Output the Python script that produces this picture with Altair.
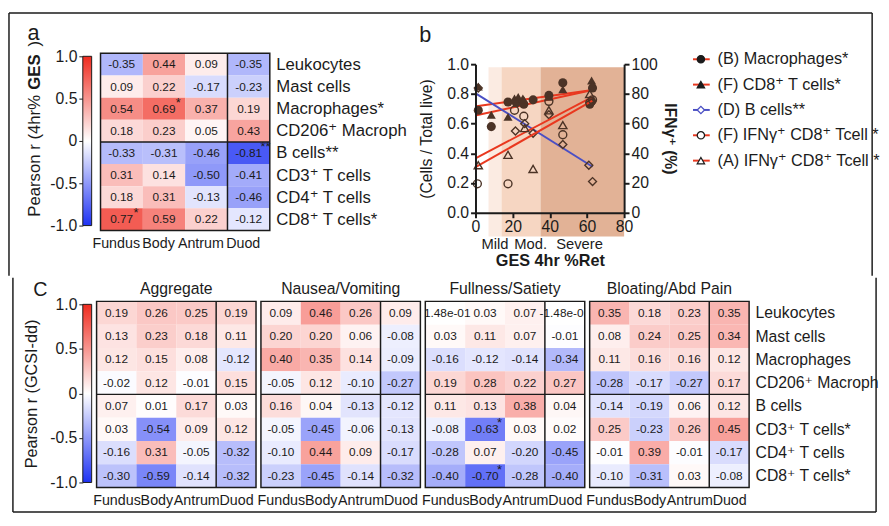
import altair as alt
import pandas as pd

FONT = "Liberation Sans, Arial, DejaVu Sans, sans-serif"
INK = "#1b1b1b"
RED = "#ef2b1f"
BLUE = "#1e32f3"
LINE_RED = "#e9381f"
LINE_BLUE = "#4a4fc4"
BROWN = "#4b3326"

# ---------------- data ----------------
COLS = ["Fundus", "Body", "Antrum", "Duod"]
ROWS_A = ["Leukocytes", "Mast cells", "Macrophages*", "CD206⁺ Macroph", "B cells**",
          "CD3⁺ T cells", "CD4⁺ T cells", "CD8⁺ T cells*"]
ROWS_C = ["Leukocytes", "Mast cells", "Macrophages", "CD206⁺ Macroph", "B cells",
          "CD3⁺ T cells*", "CD4⁺ T cells", "CD8⁺ T cells*"]

GES_R = [
    [-0.35, 0.44, 0.09, -0.35],
    [0.09, 0.22, -0.17, -0.23],
    [0.54, 0.69, 0.37, 0.19],
    [0.18, 0.23, 0.05, 0.43],
    [-0.33, -0.31, -0.46, -0.81],
    [0.31, 0.14, -0.50, -0.41],
    [0.18, 0.31, -0.13, -0.46],
    [0.77, 0.59, 0.22, -0.12],
]
STARS_A = [(1, 2, "*"), (3, 4, "**"), (0, 7, "*")]  # (col, row, mark)

AGGREGATE = [
    [0.19, 0.26, 0.25, 0.19],
    [0.13, 0.23, 0.18, 0.11],
    [0.12, 0.15, 0.08, -0.12],
    [-0.02, 0.12, -0.01, 0.15],
    [0.07, 0.01, 0.17, 0.03],
    [0.03, -0.54, 0.09, 0.12],
    [-0.16, 0.31, -0.05, -0.32],
    [-0.30, -0.59, -0.14, -0.32],
]
NAUSEA = [
    [0.09, 0.46, 0.26, 0.09],
    [0.20, 0.20, 0.06, -0.08],
    [0.40, 0.35, 0.14, -0.09],
    [-0.05, 0.12, -0.10, -0.27],
    [0.16, 0.04, -0.13, -0.12],
    [-0.05, -0.45, -0.06, -0.13],
    [-0.10, 0.44, 0.09, -0.17],
    [-0.23, -0.45, -0.14, -0.32],
]
FULLNESS = [
    [-1.48e-17, 0.03, 0.07, -1.48e-17],
    [0.03, 0.11, 0.07, -0.01],
    [-0.16, -0.12, -0.14, -0.34],
    [0.19, 0.28, 0.22, 0.27],
    [0.11, 0.13, 0.38, 0.04],
    [-0.08, -0.63, 0.03, 0.02],
    [-0.28, 0.07, -0.20, -0.45],
    [-0.40, -0.70, -0.28, -0.40],
]
FULLNESS_TEXT = {(0, 0): "-1.48e-01", (0, 3): "-1.48e-01"}
STARS_FULL = [(1, 5, "*"), (1, 7, "*")]
BLOATING = [
    [0.35, 0.18, 0.23, 0.35],
    [0.08, 0.24, 0.25, 0.34],
    [0.11, 0.16, 0.16, 0.12],
    [-0.28, -0.17, -0.27, 0.17],
    [-0.14, -0.19, 0.06, 0.12],
    [0.25, -0.23, 0.26, 0.45],
    [-0.01, 0.39, -0.01, -0.17],
    [-0.10, -0.31, 0.03, -0.08],
]
PANEL_TITLES = ["Aggregate", "Nausea/Vomiting", "Fullness/Satiety", "Bloating/Abd Pain"]

# scatter (GES 4hr %retention vs cell fractions / IFNg+ %)
MAC_X = [1.5, 8.5, 17.5, 22, 26, 31, 39.5, 47, 61.5, 62.5, 63]
MAC_Y = [0.69, 0.58, 0.745, 0.74, 0.73, 0.76, 0.79, 0.875, 0.73, 0.75, 0.84]
CD8_X = [1.5, 8.5, 17.5, 21, 23, 25.5, 26, 39.5, 47, 62.5, 63]
CD8_Y = [0.85, 0.66, 0.645, 0.77, 0.78, 0.77, 0.76, 0.78, 0.83, 0.89, 0.86]
BC_X = [1.5, 21.5, 26.5, 31, 39.5, 47, 61, 63]
BC_Y = [0.84, 0.55, 0.60, 0.535, 0.66, 0.46, 0.32, 0.21]
IFNF_X = [1, 17.5, 21, 26, 39.5, 47, 61.5, 63]
IFNF_Y = [19.5, 19.5, 69, 65, 75, 52.5, 74, 76]
IFNA_X = [1.5, 17.5, 26.5, 31, 39.5, 47, 61.5]
IFNA_Y = [32, 39, 57, 29.5, 69, 59, 80]
FIT_X = [0.5, 63]
MAC_FIT = [0.717, 0.826]
CD8_FIT = [0.656, 0.826]
BC_FIT = [0.80, 0.31]
IFNF_FIT = [37, 78]
IFNA_FIT = [31, 75.5]

SEV = ["Mild", "Mod.", "Severe"]
SEV_FROM = [7, 14, 35]
SEV_TO = [14, 35, 80]
SEV_LABEL_X = [10.5, 29.7, 56]
BAND_COLORS = ["#fbebe2", "#f6d6c2", "#e2b296"]

LEG_LABELS = ["(B) Macrophages*", "(F) CD8⁺ T cells*", "(D) B cells**",
              "(F) IFNγ⁺ CD8⁺ Tcell *", "(A) IFNγ⁺ CD8⁺ Tcell *"]
LEG_SHAPES = ["circle", "triangle-up", "diamond", "circle", "triangle-up"]
LEG_FILL = [INK, INK, "#ffffff", "#ffffff", "#ffffff"]
LEG_STROKE = [INK, INK, LINE_BLUE, INK, INK]
LEG_LINE = [LINE_RED, LINE_RED, LINE_BLUE, LINE_RED, LINE_RED]

ONE = pd.DataFrame({"k": [0]})
CSCALE = alt.Scale(domain=[-1, 0, 1], range=[BLUE, "#ffffff", RED], interpolate="rgb")


# ---------------- helpers ----------------
def vrule(x, y1, y2):
    return alt.Chart(ONE).mark_rule(color=INK, strokeWidth=1.5).encode(
        x=alt.value(x), y=alt.value(y1), y2=alt.value(y2))


def hrule(y, x1, x2):
    return alt.Chart(ONE).mark_rule(color=INK, strokeWidth=1.5).encode(
        y=alt.value(y), x=alt.value(x1), x2=alt.value(x2))


def label(txt, x, y, size, weight="normal", angle=0, align="center", baseline="alphabetic"):
    return alt.Chart(ONE).mark_text(text=txt, fontSize=size, fontWeight=weight, angle=angle,
                                    align=align, baseline=baseline, color=INK).encode(
        x=alt.value(x), y=alt.value(y))


GRAD = alt.LinearGradient(
    gradient="linear",
    stops=[alt.GradientStop(color=BLUE, offset=0),
           alt.GradientStop(color="#ffffff", offset=0.5),
           alt.GradientStop(color=RED, offset=1)],
    x1=0, x2=0, y1=1, y2=0)
CBAR_TICKS = [-1, -0.5, 0, 0.5, 1]


def colorbar(rng, h, title, extra):
    ys = alt.Scale(domain=[-1, 1], range=rng, nice=False, zero=False)
    ax = alt.Axis(values=CBAR_TICKS,
                  labelExpr="datum.value == 0 ? '0' : (datum.value < 0 ? '-' : '') + format(abs(datum.value), '.1f')",
                  domain=False, grid=False, tickSize=4, tickWidth=1, labelFontSize=16,
                  labelPadding=2, title=title, titleFontSize=16.5, titleFontWeight="normal",
                  titlePadding=10, labelOverlap=False)
    df = pd.DataFrame({"lo": [CBAR_TICKS[0]], "hi": [CBAR_TICKS[-1]]})
    bar = alt.Chart(df).mark_rect(fill=GRAD, stroke=INK, strokeWidth=1).encode(
        x=alt.value(0), x2=alt.value(9), y=alt.Y("lo:Q", scale=ys, axis=ax), y2="hi:Q")
    return alt.layer(bar, *extra).properties(width=9, height=h)


def heat_frame(vals, overrides):
    recs = []
    for r, row in enumerate(vals):
        for c, v in enumerate(row):
            t = overrides.get((r, c), f"{v:.2f}")
            recs.append({"c": c, "c2": c + 1, "cm": c + 0.5, "r": r, "r2": r + 1,
                         "rm": r + 0.5, "v": v, "t": t})
    return pd.DataFrame(recs)


def heatmap(vals, row_names, w, h, title=None, show_rows=False, row_font=16,
            stars=(), overrides=None, col_offset=0):
    df = heat_frame(vals, overrides or {})
    ncol, nrow = len(COLS), len(row_names)
    xs = alt.Scale(domain=[0, ncol], nice=False, zero=False)
    ys = alt.Scale(domain=[0, nrow], nice=False, zero=False, reverse=True)
    col_expr = "[" + ",".join(f"'{c}'" for c in COLS) + "][floor(datum.value)]"
    xax = alt.Axis(values=[i + 0.5 for i in range(ncol)], labelExpr=col_expr, ticks=False,
                   domain=False, grid=False, title=None, labelFontSize=14.5, labelPadding=6,
                   labelOffset=col_offset, labelFlush=False, labelOverlap=False)
    if show_rows:
        row_expr = "[" + ",".join(f"'{r}'" for r in row_names) + "][floor(datum.value)]"
        yax = alt.Axis(orient="right", values=[i + 0.5 for i in range(nrow)], labelExpr=row_expr,
                       ticks=False, domain=False, grid=False, title=None, labelFontSize=row_font,
                       labelPadding=6, labelOverlap=False, labelFlush=False)
    else:
        yax = None

    def X(f):
        return alt.X(f, type="quantitative", scale=xs, axis=xax)

    def Y(f):
        return alt.Y(f, type="quantitative", scale=ys, axis=yax)

    cells = alt.Chart(df).mark_rect().encode(
        x=X("c"), x2="c2:Q", y=Y("r"), y2="r2:Q",
        color=alt.Color("v:Q", scale=CSCALE, legend=None))
    texts = alt.Chart(df).mark_text(fontSize=12, color=INK, clip=True).encode(
        x=X("cm"), y=Y("rm"), text="t:N")
    layers = [cells, texts]
    if stars:
        sdf = pd.DataFrame({"cm": [s[0] + 0.5 for s in stars], "rm": [s[1] + 0.5 for s in stars],
                            "s": [s[2] for s in stars]})
        layers.append(alt.Chart(sdf).mark_text(align="left", baseline="middle", dx=12, dy=-6,
                                               fontSize=13, color=INK).encode(
            x=X("cm"), y=Y("rm"), text="s:N"))
    div = pd.DataFrame({"x": [ncol - 1, 0], "x2": [ncol - 1, ncol],
                        "y": [0, nrow // 2], "y2": [nrow, nrow // 2]})
    layers.append(alt.Chart(div).mark_rule(color=INK, strokeWidth=1.5).encode(
        x=X("x"), x2="x2:Q", y=Y("y"), y2="y2:Q"))
    box = pd.DataFrame({"x": [0], "x2": [ncol], "y": [0], "y2": [nrow]})
    layers.append(alt.Chart(box).mark_rect(fillOpacity=0, stroke=INK, strokeWidth=1.5).encode(
        x=X("x"), x2="x2:Q", y=Y("y"), y2="y2:Q"))
    ch = alt.layer(*layers)
    if title:
        return ch.properties(width=w, height=h,
                             title=alt.TitleParams(title, fontSize=16, fontWeight="normal", offset=4))
    return ch.properties(width=w, height=h)


def spacer(w):
    return alt.Chart(ONE).mark_point(opacity=0).encode(
        x=alt.value(0), y=alt.value(0)).properties(width=w, height=10)


# ---------------- panel a ----------------
cbar_a = colorbar([175, 3], 180, None, [
    hrule(-41, -75, 802), vrule(-75, -41, 226), vrule(802, -41, 226),
    label("a", -50, -14, 22),
    label("Pearson r (4hr% ", -48, 166, 17, angle=270, align="left", baseline="middle"),
    label("GES", -48, 37, 17, weight="bold", angle=270, align="left", baseline="middle"),
    label(")", -48, -7, 17, angle=270, align="left", baseline="middle"),
])
heat_a = heatmap(GES_R, ROWS_A, 172, 180, show_rows=True, row_font=17, stars=STARS_A,
                 col_offset=-6)

# ---------------- panel b ----------------
xsS = alt.Scale(domain=[0, 80], nice=False, zero=False)
ysL = alt.Scale(domain=[0, 1], range=[162, 11], nice=False, zero=False)
ysR = alt.Scale(domain=[0, 100], range=[162, 11], nice=False, zero=False)
xaxS = alt.Axis(values=[0, 20, 40, 60, 80], title="GES 4hr %Ret", titleFontSize=16.5,
                titleFontWeight="bold", titlePadding=19, labelFontSize=16, labelPadding=1,
                tickSize=5, tickWidth=2, domainWidth=2, labelFlush=False, labelOverlap=False,
                zindex=1, grid=False)
yaxL = alt.Axis(values=[0, 0.2, 0.4, 0.6, 0.8, 1.0], format=".1f", title="(Cells / Total live)",
                titleFontSize=16, titleFontWeight="normal", titlePadding=12, labelFontSize=16,
                labelPadding=2, tickSize=5, tickWidth=2, domainWidth=2, zindex=1, grid=False,
                labelOverlap=False)
yaxR = alt.Axis(orient="right", values=[0, 20, 40, 60, 80, 100], title="IFNγ⁺ (%)",
                titleFontSize=16, titleFontWeight="bold", titlePadding=4, labelFontSize=16,
                labelPadding=2, tickSize=5, tickWidth=2, domainWidth=2, zindex=1, grid=False,
                labelOverlap=False)


def XS(f):
    return alt.X(f, type="quantitative", scale=xsS, axis=xaxS)


def YL(f):
    return alt.Y(f, type="quantitative", scale=ysL, axis=yaxL)


def YR(f):
    return alt.Y(f, type="quantitative", scale=ysR, axis=yaxR)


def pts(xv, yv, Yf, shape, filled, size):
    df = pd.DataFrame({"x": xv, "y": yv})
    return alt.Chart(df).mark_point(shape=shape, filled=filled, size=size, color=BROWN,
                                    opacity=1, strokeWidth=1.4).encode(x=XS("x"), y=Yf("y"))


def fit(yv, Yf, color):
    df = pd.DataFrame({"x": FIT_X, "y": yv})
    return alt.Chart(df).mark_line(color=color, strokeWidth=2).encode(x=XS("x"), y=Yf("y"))


bands_df = pd.DataFrame({"x0": SEV_FROM, "x1": SEV_TO, "sev": SEV})
bands = alt.Chart(bands_df).mark_rect().encode(
    x=XS("x0"), x2="x1:Q",
    y=alt.Y(datum=-0.16, type="quantitative", scale=ysL, axis=yaxL), y2=alt.Y2(datum=0.98),
    color=alt.Color("sev:N", scale=alt.Scale(domain=SEV, range=BAND_COLORS), legend=None))
sev_text = alt.Chart(pd.DataFrame({"x": SEV_LABEL_X, "t": SEV})).mark_text(
    fontSize=15, color=INK, baseline="middle").encode(x=XS("x"), y=alt.value(194), text="t:N")

left = alt.layer(
    bands, sev_text,
    fit(MAC_FIT, YL, LINE_RED), fit(CD8_FIT, YL, LINE_RED), fit(BC_FIT, YL, LINE_BLUE),
    pts(MAC_X, MAC_Y, YL, "circle", True, 85),
    pts(CD8_X, CD8_Y, YL, "triangle-up", True, 85),
    pts(BC_X, BC_Y, YL, "diamond", False, 65),
    label("b", -51, -12, 22),
)
right = alt.layer(
    fit(IFNF_FIT, YR, LINE_RED), fit(IFNA_FIT, YR, LINE_RED),
    pts(IFNF_X, IFNF_Y, YR, "circle", False, 65),
    pts(IFNA_X, IFNA_Y, YR, "triangle-up", False, 70),
)
scatter = alt.layer(left, right).resolve_scale(y="independent").properties(width=151, height=162)

# legend
leg_df = pd.DataFrame({"label": LEG_LABELS})
ly = alt.Y("label:N", sort=LEG_LABELS,
           scale=alt.Scale(type="point", domain=LEG_LABELS, range=[6, 109], padding=0), axis=None)
leg_rule = alt.Chart(leg_df).mark_rule(strokeWidth=2).encode(
    x=alt.value(61), x2=alt.value(78), y=ly,
    color=alt.Color("label:N", scale=alt.Scale(domain=LEG_LABELS, range=LEG_LINE), legend=None))
leg_pts = alt.Chart(leg_df).mark_point(filled=True, size=55, opacity=1, strokeWidth=1.3).encode(
    x=alt.value(69), y=ly,
    shape=alt.Shape("label:N", scale=alt.Scale(domain=LEG_LABELS, range=LEG_SHAPES), legend=None),
    fill=alt.Fill("label:N", scale=alt.Scale(domain=LEG_LABELS, range=LEG_FILL), legend=None),
    stroke=alt.Stroke("label:N", scale=alt.Scale(domain=LEG_LABELS, range=LEG_STROKE), legend=None))
leg_txt = alt.Chart(leg_df).mark_text(align="left", baseline="middle", fontSize=16.5, color=INK).encode(
    x=alt.value(86), y=ly, text="label:N")
legend = alt.layer(leg_rule, leg_pts, leg_txt).properties(width=240, height=180)

top = alt.hconcat(cbar_a, heat_a, spacer(191), scatter, legend, spacing=9, bounds="flush")

# ---------------- panel c ----------------
cbar_c = colorbar([184, 3], 189, "Pearson r (GCSI-dd)", [
    vrule(-71, -24, 214), vrule(806, -24, 214), hrule(214, -71, 806),
    label("C", -43, -5, 20),
])
h1 = heatmap(AGGREGATE, ROWS_C, 162, 189, title=PANEL_TITLES[0])
h2 = heatmap(NAUSEA, ROWS_C, 162, 189, title=PANEL_TITLES[1])
h3 = heatmap(FULLNESS, ROWS_C, 162, 189, title=PANEL_TITLES[2], stars=STARS_FULL,
             overrides=FULLNESS_TEXT)
h4 = heatmap(BLOATING, ROWS_C, 162, 189, title=PANEL_TITLES[3], show_rows=True, row_font=16)

bottom = alt.hconcat(cbar_c, h1, h2, h3, h4, spacing=5, bounds="flush")

chart = alt.vconcat(top, bottom, spacing=0, bounds="full").properties(
    padding=0
).configure(font=FONT).configure_view(stroke=None).configure_axis(
    labelColor=INK, titleColor=INK, domainColor=INK, tickColor=INK, labelFont=FONT, titleFont=FONT
).configure_title(font=FONT, color=INK)

chart.save("out.html", embed_options={"renderer": "svg", "actions": False})
